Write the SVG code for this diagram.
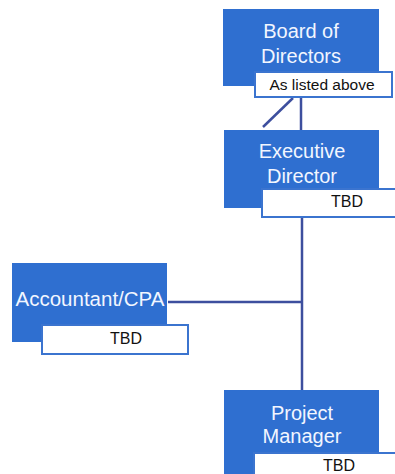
<svg xmlns="http://www.w3.org/2000/svg" width="395" height="474" viewBox="0 0 395 474">
<style>
.box{fill:#2f6fd0;}
.lbl{fill:#ffffff;stroke:#3b74cf;stroke-width:2;}
.t{font-family:"Liberation Sans",Arial,sans-serif;font-size:20px;fill:#f2f6ff;text-anchor:middle;}
.s{font-family:"Liberation Sans",Arial,sans-serif;font-size:16px;fill:#111111;text-anchor:middle;}
.c{stroke:#3d4f9e;stroke-width:2.5;fill:none;}
</style>
<rect width="395" height="474" fill="#ffffff"/>
<g id="connectors">
<line class="c" x1="293" y1="98" x2="263" y2="127"/>
<line class="c" x1="301" y1="98" x2="301" y2="130"/>
<line class="c" x1="302" y1="217" x2="302" y2="390"/>
<line class="c" x1="168" y1="302" x2="302" y2="302"/>
</g>
<g id="board">
<rect class="box" x="223" y="9" width="156" height="77"/>
<text class="t" x="301" y="38">Board of</text>
<text class="t" x="301" y="63">Directors</text>
<rect class="lbl" x="255" y="72" width="137" height="25"/>
<text class="s" x="322" y="90" style="font-size:15.5px">As listed above</text>
</g>
<g id="executive">
<rect class="box" x="224" y="130" width="155" height="78"/>
<text class="t" x="302" y="158">Executive</text>
<text class="t" x="302" y="183">Director</text>
<rect class="lbl" x="262" y="189" width="135" height="28"/>
<text class="s" x="347" y="207">TBD</text>
</g>
<g id="accountant">
<rect class="box" x="12" y="263" width="155" height="79"/>
<text class="t" x="90" y="306" style="font-size:20.5px">Accountant/CPA</text>
<rect class="lbl" x="42" y="325" width="146" height="29"/>
<text class="s" x="126" y="344">TBD</text>
</g>
<g id="project">
<rect class="box" x="224" y="390" width="155" height="90"/>
<text class="t" x="302" y="420">Project</text>
<text class="t" x="302" y="443">Manager</text>
<rect class="lbl" x="254" y="453" width="143" height="30"/>
<text class="s" x="339" y="471">TBD</text>
</g>
</svg>
